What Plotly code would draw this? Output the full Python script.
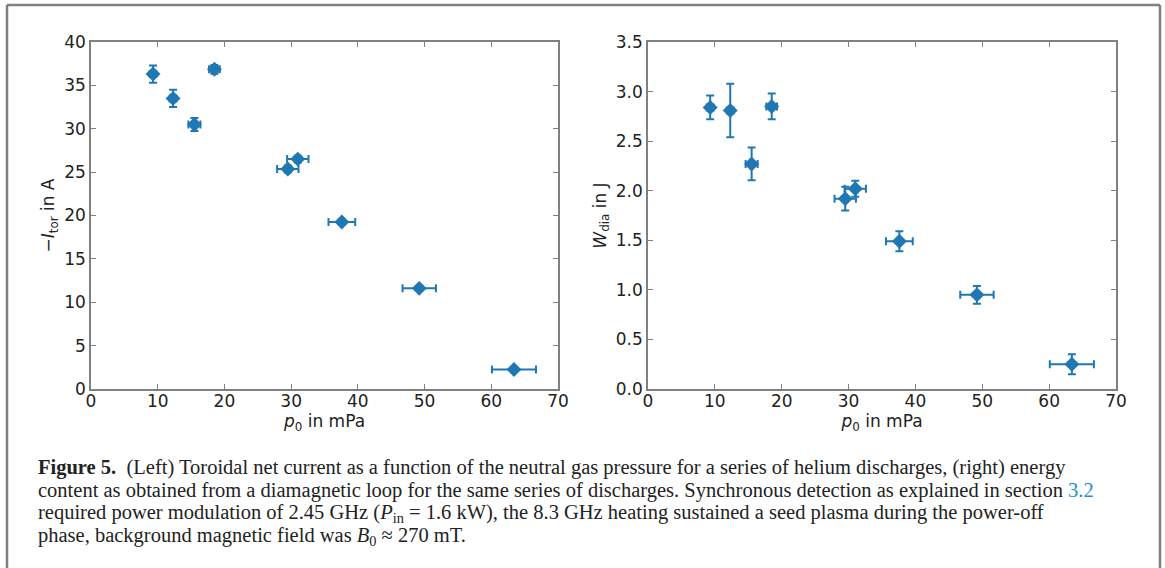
import plotly.graph_objects as go

W, H = 1165, 568

# ---- data ----
pressure = [9.3, 12.3, 15.5, 18.5, 29.5, 31.0, 37.6, 49.2, 63.4]
pressure_err = [0.5, 0.5, 0.9, 0.8, 1.6, 1.6, 2.0, 2.5, 3.3]
current = [36.3, 33.5, 30.5, 36.85, 25.35, 26.5, 19.25, 11.6, 2.25]
current_err = [1.0, 1.0, 0.75, 0.5, 0.4, 0.4, 0.3, 0.3, 0.3]
energy = [2.84, 2.81, 2.27, 2.85, 1.92, 2.02, 1.49, 0.95, 0.25]
energy_err = [0.12, 0.27, 0.165, 0.13, 0.12, 0.08, 0.10, 0.09, 0.10]

x_ticks = [0, 10, 20, 30, 40, 50, 60, 70]
left_yticks = [0, 5, 10, 15, 20, 25, 30, 35, 40]
right_yticks = [0.0, 0.5, 1.0, 1.5, 2.0, 2.5, 3.0, 3.5]

BLUE = "#1f77b4"
GRAY = "#808080"
TXT = "#222222"


def px_x(p):
    return p / W


def px_y(p):
    return 1 - p / H


fig = go.Figure()

for xa, ya, yv, ye in [("x", "y", current, current_err), ("x2", "y2", energy, energy_err)]:
    fig.add_trace(go.Scatter(
        x=pressure, y=yv, xaxis=xa, yaxis=ya, mode="markers",
        marker=dict(symbol="diamond", size=11.5, color=BLUE, line=dict(width=0)),
        error_x=dict(type="data", array=pressure_err, symmetric=True, color=BLUE, thickness=2, width=4),
        error_y=dict(type="data", array=ye, symmetric=True, color=BLUE, thickness=2, width=4),
        showlegend=False, hoverinfo="x+y",
    ))

axis_common = dict(
    showgrid=False, zeroline=False, showline=True, linecolor=GRAY, linewidth=1.5,
    mirror="ticks", ticks="inside", ticklen=5, tickwidth=1.2, tickcolor=GRAY,
    tickfont=dict(family="DejaVu Sans", size=17, color=TXT), automargin=False,
)
title_font = dict(family="DejaVu Sans", size=17, color=TXT)

fig.update_layout(
    width=W, height=H, margin=dict(l=0, r=0, t=0, b=0),
    paper_bgcolor="white", plot_bgcolor="white",
    xaxis=dict(domain=[px_x(91), px_x(558)], range=[0, 70], tickvals=x_ticks, anchor="y",
               ticklabelstandoff=-4,
               title=dict(text="<i>p</i><sub>0</sub> in mPa", font=title_font, standoff=5), **axis_common),
    yaxis=dict(domain=[px_y(389), px_y(42)], range=[0, 40], tickvals=left_yticks, anchor="x",
               title=dict(text="−<i>I</i><sub>tor</sub> in A", font=title_font, standoff=5), **axis_common),
    xaxis2=dict(domain=[px_x(648), px_x(1116)], range=[0, 70], tickvals=x_ticks, anchor="y2",
                ticklabelstandoff=-4,
                title=dict(text="<i>p</i><sub>0</sub> in mPa", font=title_font, standoff=5), **axis_common),
    yaxis2=dict(domain=[px_y(389), px_y(42)], range=[0, 3.5], tickvals=right_yticks,
                ticktext=[f"{v:.1f}" for v in right_yticks], anchor="x2",
                title=dict(text="<i>W</i><sub>dia</sub> in J", font=title_font, standoff=5), **axis_common),
)

# outer frame (left, top, right)
for x0, y0, x1, y1 in [(7, 5, 7, 600), (7, 5, 1160, 5), (1160, 5, 1160, 600)]:
    fig.add_shape(type="line", xref="paper", yref="paper",
                  x0=px_x(x0), y0=px_y(y0), x1=px_x(x1), y1=px_y(y1),
                  line=dict(color=GRAY, width=2.5))

caption_lines = [
    "<b>Figure 5.</b>  (Left) Toroidal net current as a function of the neutral gas pressure for a series of helium discharges, (right) energy",
    "content as obtained from a diamagnetic loop for the same series of discharges. Synchronous detection as explained in section <span style='color:#1a8fd6'>3.2</span>",
    "required power modulation of 2.45 GHz (<i>P</i><sub>in</sub> = 1.6 kW), the 8.3 GHz heating sustained a seed plasma during the power-off",
    "phase, background magnetic field was <i>B</i><sub>0</sub> ≈ 270 mT.",
]
caption_y = [467, 490, 513, 536]
for line, yy in zip(caption_lines, caption_y):
    fig.add_annotation(text=line, xref="paper", yref="paper", x=px_x(36), y=px_y(yy),
                       xanchor="left", yanchor="middle", showarrow=False,
                       font=dict(family="Liberation Serif", size=20.5, color=TXT))

fig.write_html("out.html")
